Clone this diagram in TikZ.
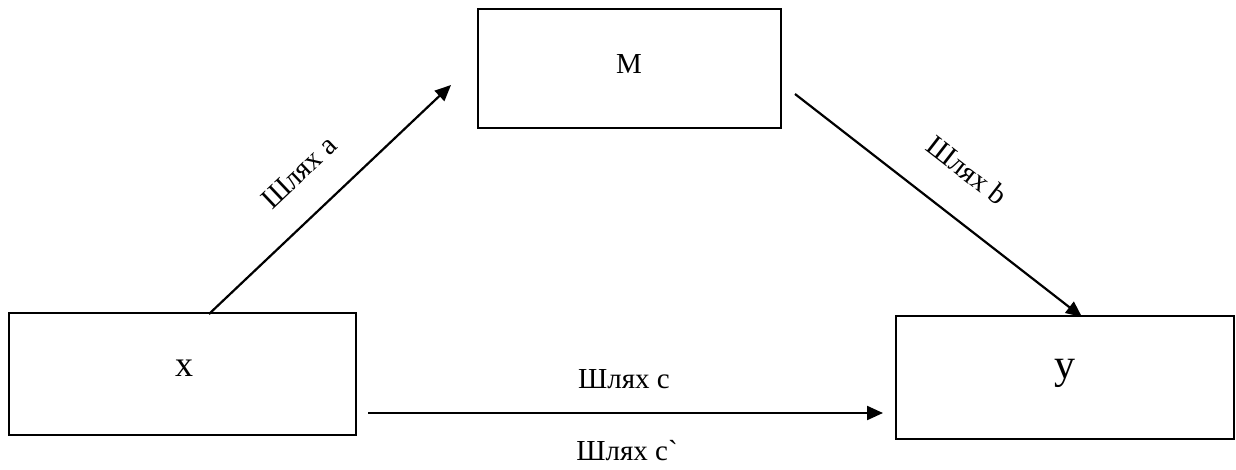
\documentclass[tikz,border=0pt]{standalone}
\usepackage{fontspec}
\setmainfont{Liberation Serif}
\usetikzlibrary{arrows.meta}
\begin{document}
\begin{tikzpicture}[x=1pt,y=-1pt,
  box/.style={draw,line width=2.4pt,inner sep=0pt},
  conn/.style={line width=2.2pt,-{Triangle[length=16pt,width=14pt]}},
  lbl/.style={font=\fontsize{29}{32}\selectfont,inner sep=0pt},
  var/.style={inner sep=0pt,anchor=base}]
\useasboundingbox (0,0) rectangle (1236,469);
% boxes
\draw[box] (478,9) rectangle (781,128);
\draw[box] (9,313) rectangle (356,435);
\draw[box] (896,316) rectangle (1234,439);
\node (mbox) at (629.5,68.5) {};
\node (xbox) at (182.5,374) {};
\node (ybox) at (1065,377.5) {};
% texts
\node[var,font=\fontsize{29}{32}\selectfont] (m) at (629,73) {M};
\node[var,font=\fontsize{36}{38}\selectfont] (x) at (184,376) {x};
\node[var,font=\fontsize{42}{44}\selectfont] (y) at (1065,378) {y};
% connector endpoints
\coordinate (a1) at (209,314);
\coordinate (a2) at (451,85);
\coordinate (b1) at (795,94);
\coordinate (b2) at (1082,317);
\coordinate (c1) at (368,413);
\coordinate (c2) at (883,413);
\draw[conn] (a1) -- (a2);
\draw[conn] (b1) -- (b2);
\draw[conn] (c1) -- (c2);
% labels
\node[lbl,rotate=43.5] (la) at (299,172) {Шлях a};
\node[lbl,rotate=-37.8] (lb) at (967,170) {Шлях b};
\node[lbl,anchor=base] (lc) at (624,388) {Шлях c};
\node[lbl,anchor=base] (lc2) at (627,460) {Шлях c\textasciigrave};
\end{tikzpicture}
\end{document}
